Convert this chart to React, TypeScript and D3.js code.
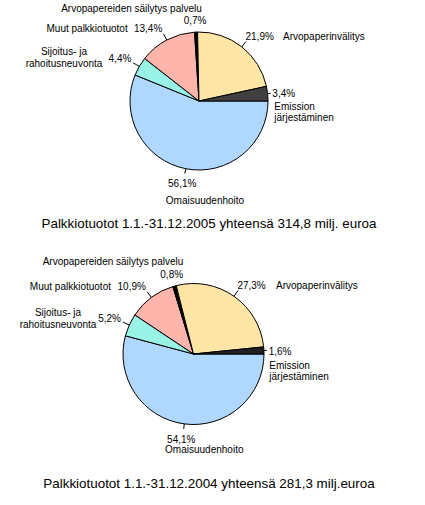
import React from "react";
import * as d3 from "d3";

// ---- Data ----
const categories = [
  "Omaisuudenhoito",
  "Sijoitus- ja rahoitusneuvonta",
  "Muut palkkiotuotot",
  "Arvopapereiden säilytyspalvelu",
  "Arvopaperinvälitys",
  "Emission järjestäminen",
];
const categoryLines = [
  ["Omaisuudenhoito"],
  ["Sijoitus- ja", "rahoitusneuvonta"],
  ["Muut palkkiotuotot"],
  ["Arvopapereiden säilytys palvelu"],
  ["Arvopaperinvälitys"],
  ["Emission", "järjestäminen"],
];
const values2005 = [56.1, 4.4, 13.4, 0.7, 21.9, 3.4];
const values2004 = [54.1, 5.2, 10.9, 0.8, 27.3, 1.6];
const title2005 = "Palkkiotuotot 1.1.-31.12.2005 yhteensä 314,8 milj. euroa";
const title2004 = "Palkkiotuotot 1.1.-31.12.2004 yhteensä 281,3 milj.euroa";

// ---- Styles / layout ----
const colors = ["#B0D8FF", "#99F2E6", "#FFB4AC", "#000000", "#FFE6A6", "#404040"];
const colors2004 = ["#B0D8FF", "#99F2E6", "#FFB4AC", "#000000", "#FFE6A6", "#202020"];
const leaderLen = [5, 7, 7, 0, 7, 3];
const pctOffset: [number, number, string][] = [
  [-2, 10.8, "middle"],
  [-1, 0, "end"],
  [-0.7, -1, "end"],
  [-0.7, 0, "middle"],
  [-1.2, -0.6, "start"],
  [-3.2, 4.6, "start"],
];
const FONT = "'Liberation Sans', Arial, sans-serif";

type NamePos = [number, number, string];
const namePos2005: NamePos[] = [
  [205, 203.5, "middle"],
  [64, 55.2, "middle"],
  [127.7, 32, "end"],
  [131.5, 12, "middle"],
  [283, 39.5, "start"],
  [274.3, 109.5, "start"],
];
const namePos2004: NamePos[] = [
  [204.3, 452.8, "middle"],
  [58, 316.2, "middle"],
  [111, 290.2, "end"],
  [113, 265.2, "middle"],
  [276, 288.5, "start"],
  [269.3, 368.5, "start"],
];

const fmt = (v: number) => d3.format(".1f")(v).replace(".", ",") + "%";

function Pie({
  values,
  cx,
  cy,
  r,
  cols,
  names,
  title,
  titleY,
}: {
  values: number[];
  cx: number;
  cy: number;
  r: number;
  cols: string[];
  names: NamePos[];
  title: string;
  titleY: number;
}) {
  const pie = d3
    .pie<number>()
    .sort(null)
    .value((d) => d)
    .startAngle(Math.PI / 2)
    .endAngle(Math.PI / 2 + 2 * Math.PI);
  const arcs = pie(values);
  const arc = d3.arc<d3.PieArcDatum<number>>().innerRadius(0).outerRadius(r);
  const pt = (a: number, rr: number): [number, number] => [
    cx + rr * Math.sin(a),
    cy - rr * Math.cos(a),
  ];
  return (
    <g>
      <g transform={`translate(${cx},${cy})`}>
        {arcs.map((a, i) => (
          <path
            key={i}
            d={arc(a) || ""}
            fill={cols[i]}
            stroke="#000"
            strokeWidth={1}
            strokeLinejoin="round"
          />
        ))}
      </g>
      {arcs.map((a, i) => {
        const mid = (a.startAngle + a.endAngle) / 2;
        const [x0, y0] = pt(mid, r);
        const [x1, y1] = pt(mid, r + leaderLen[i]);
        const [ax, ay] = pt(mid, r + 8);
        const [dx, dy, anchor] = pctOffset[i];
        return (
          <g key={"l" + i}>
            {leaderLen[i] > 0 && (
              <line x1={x0} y1={y0} x2={x1} y2={y1} stroke="#000" strokeWidth={1} />
            )}
            <text
              x={ax + dx}
              y={ay + dy}
              textAnchor={anchor as any}
              fontSize={10}
              fontFamily={FONT}
              fill="#000"
            >
              {fmt(values[i])}
            </text>
          </g>
        );
      })}
      {categoryLines.map((lines, i) => (
        <text
          key={"n" + i}
          x={names[i][0]}
          y={names[i][1]}
          textAnchor={names[i][2] as any}
          fontSize={10}
          fontFamily={FONT}
          fill="#000"
        >
          {lines.map((ln, j) => (
            <tspan key={j} x={names[i][0]} dy={j === 0 ? 0 : 11.7}>
              {ln}
            </tspan>
          ))}
        </text>
      ))}
      <text
        x={209}
        y={titleY}
        textAnchor="middle"
        fontSize={13.4}
        fontFamily={FONT}
        fill="#000"
      >
        {title}
      </text>
    </g>
  );
}

export default function App() {
  return (
    <svg
      width={425}
      height={505}
      style={{ position: "absolute", left: 0, top: 0, background: "#fff" }}
    >
      <rect width={425} height={505} fill="#fff" />
      <Pie
        values={values2005}
        cx={199}
        cy={101}
        r={69}
        cols={colors}
        names={namePos2005}
        title={title2005}
        titleY={227.5}
      />
      <Pie
        values={values2004}
        cx={193.5}
        cy={354}
        r={70.5}
        cols={colors2004}
        names={namePos2004}
        title={title2004}
        titleY={488}
      />
    </svg>
  );
}
